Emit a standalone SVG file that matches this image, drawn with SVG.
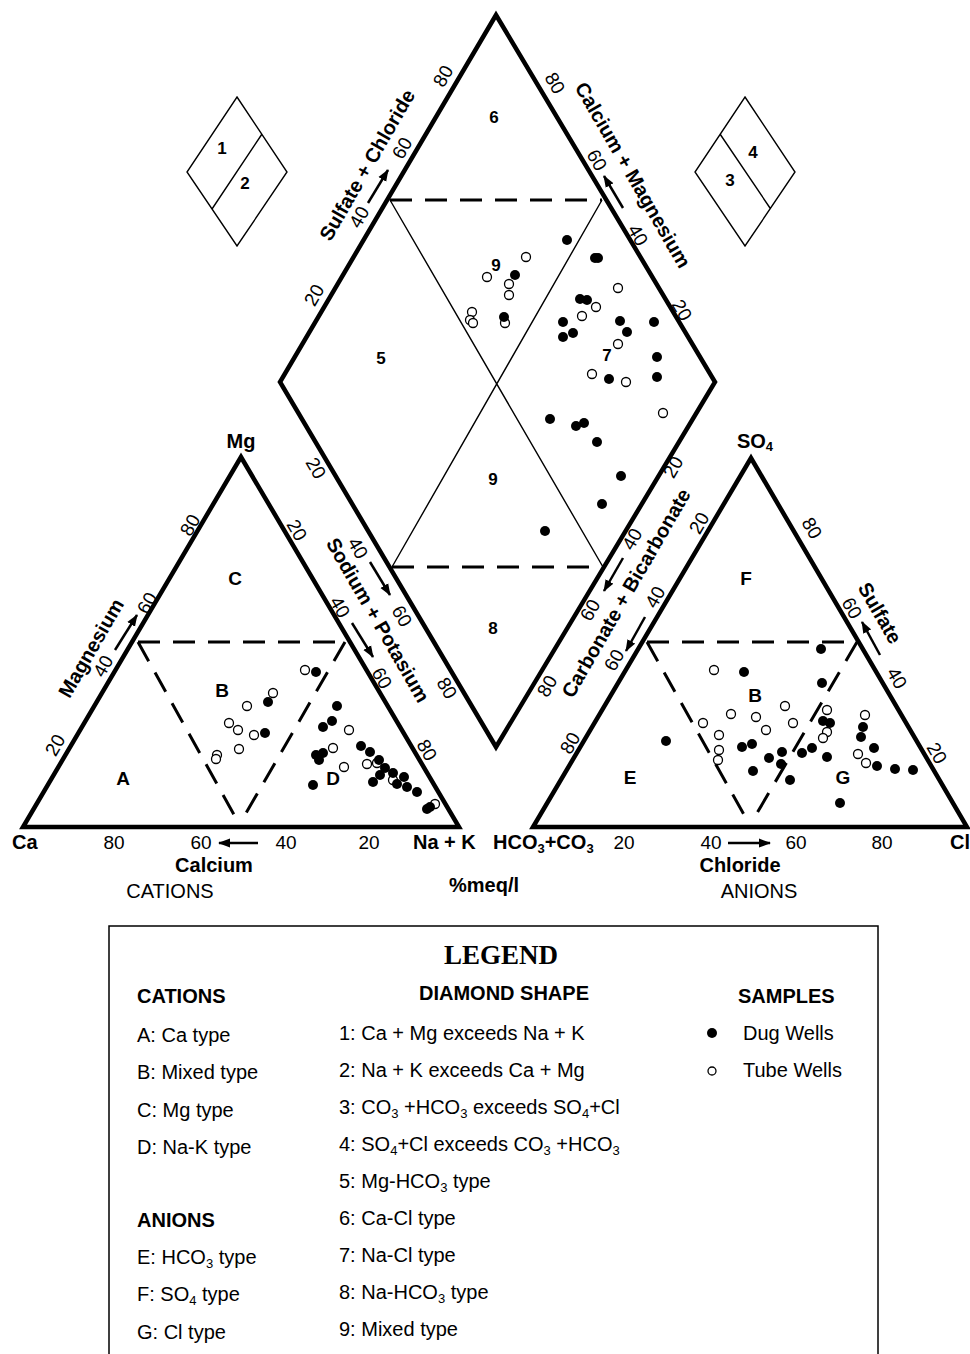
<svg xmlns="http://www.w3.org/2000/svg" width="970" height="1354" viewBox="0 0 970 1354">
<defs>
<style>
.thick{fill:none;stroke:#000;stroke-width:4.5;stroke-linejoin:miter;stroke-miterlimit:10}
.thin{fill:none;stroke:#000;stroke-width:1.4}
.dash{fill:none;stroke:#000;stroke-width:3;stroke-dasharray:22 13}
.arr{stroke:#000;stroke-width:2.5;marker-end:url(#ah)}
.d{fill:#000}
.t{fill:#fff;stroke:#000;stroke-width:1.3}
text{font-family:"Liberation Sans",Arial,sans-serif;fill:#000}
.tk{font-size:19px;text-anchor:middle}
.bl{font-size:20px;font-weight:bold}
.blc{font-size:20px;font-weight:bold;text-anchor:middle}
.rg{font-size:19px;font-weight:bold;text-anchor:middle}
.num{font-size:17px;font-weight:bold;text-anchor:middle}
.lg{font-size:20px}
.lh{font-size:20px;font-weight:bold}
.sub{font-size:13px}
</style>
<marker id="ah" viewBox="0 0 12 10" refX="11" refY="5" markerWidth="12" markerHeight="10" markerUnits="userSpaceOnUse" orient="auto"><path d="M0,0.5 L12,5 L0,9.5 z" fill="#000"/></marker>
</defs>
<rect width="970" height="1354" fill="#fff"/>

<g id="key-diamond-12">
<path class="thin" d="M237,97 L287,172 L237,246 L187,172 Z M262,134 L212,209"/>
<text class="num" x="222" y="154">1</text>
<text class="num" x="245" y="189">2</text>
</g>
<g id="key-diamond-34">
<path class="thin" d="M745,97 L795,172 L745,246 L695,172 Z M720,134 L770,208"/>
<text class="num" x="753" y="158">4</text>
<text class="num" x="730" y="186">3</text>
</g>

<g id="diamond">
<path class="thick" d="M496,15 L715,382 L496,747 L280,382 Z"/>
<path class="dash" d="M390,200 L602,200 M392,567 L603,567"/>
<path class="thin" d="M390,200 L603,567 M602,200 L392,567"/>
<text class="num" x="494" y="123">6</text>
<text class="num" x="496" y="271">9</text>
<text class="num" x="381" y="364">5</text>
<text class="num" x="607" y="361">7</text>
<text class="num" x="493" y="485">9</text>
<text class="num" x="493" y="634">8</text>
</g>

<g id="cation-triangle">
<path class="thick" d="M23,827 L459,827 L241,457 Z"/>
<path class="dash" d="M138,642 L345,642 M138,642 L237,820 M345,642 L242,820"/>
<text class="rg" x="235" y="585">C</text>
<text class="rg" x="222" y="697">B</text>
<text class="rg" x="123" y="785">A</text>
<text class="rg" x="333" y="785">D</text>
</g>

<g id="anion-triangle">
<path class="thick" d="M533,827 L967,827 L751,458 Z"/>
<path class="dash" d="M647,642 L857,642 M647,642 L747,820 M857,642 L753,820"/>
<text class="rg" x="746" y="585">F</text>
<text class="rg" x="755" y="702">B</text>
<text class="rg" x="630" y="784">E</text>
<text class="rg" x="843" y="784">G</text>
</g>

<g id="connectors">
<line class="arr" x1="258" y1="843" x2="219" y2="843"/>
<line class="arr" x1="728" y1="843" x2="770" y2="843"/>
<line class="arr" x1="115" y1="650" x2="137" y2="615"/>
<line class="arr" x1="352" y1="623" x2="373" y2="657"/>
<line class="arr" x1="370" y1="562" x2="390" y2="595"/>
<line class="arr" x1="368" y1="203" x2="388" y2="170"/>
<line class="arr" x1="623" y1="208" x2="604" y2="176"/>
<line class="arr" x1="623" y1="558" x2="604" y2="591"/>
<line class="arr" x1="645" y1="617" x2="626" y2="651"/>
<line class="arr" x1="880" y1="655" x2="862" y2="622"/>
</g>

<g id="ticks">
<text class="tk" transform="translate(55,745) rotate(-60)" dy="0.35em">20</text>
<text class="tk" transform="translate(103,666) rotate(-60)" dy="0.35em">40</text>
<text class="tk" transform="translate(147,603) rotate(-60)" dy="0.35em">60</text>
<text class="tk" transform="translate(190,525) rotate(-60)" dy="0.35em">80</text>

<text class="tk" transform="translate(297,530) rotate(60)" dy="0.35em">20</text>
<text class="tk" transform="translate(340,607) rotate(60)" dy="0.35em">40</text>
<text class="tk" transform="translate(382,678) rotate(60)" dy="0.35em">60</text>
<text class="tk" transform="translate(427,750) rotate(60)" dy="0.35em">80</text>

<text class="tk" transform="translate(316,468) rotate(60)" dy="0.35em">20</text>
<text class="tk" transform="translate(358,548) rotate(60)" dy="0.35em">40</text>
<text class="tk" transform="translate(402,616) rotate(60)" dy="0.35em">60</text>
<text class="tk" transform="translate(447,688) rotate(60)" dy="0.35em">80</text>

<text class="tk" transform="translate(443,76) rotate(-60)" dy="0.35em">80</text>
<text class="tk" transform="translate(402,148) rotate(-60)" dy="0.35em">60</text>
<text class="tk" transform="translate(359,217) rotate(-60)" dy="0.35em">40</text>
<text class="tk" transform="translate(314,295) rotate(-60)" dy="0.35em">20</text>

<text class="tk" transform="translate(555,83) rotate(60)" dy="0.35em">80</text>
<text class="tk" transform="translate(597,160) rotate(60)" dy="0.35em">60</text>
<text class="tk" transform="translate(638,235) rotate(60)" dy="0.35em">40</text>
<text class="tk" transform="translate(682,310) rotate(60)" dy="0.35em">20</text>

<text class="tk" transform="translate(673,467) rotate(-60)" dy="0.35em">20</text>
<text class="tk" transform="translate(632,539) rotate(-60)" dy="0.35em">40</text>
<text class="tk" transform="translate(590,610) rotate(-60)" dy="0.35em">60</text>
<text class="tk" transform="translate(547,686) rotate(-60)" dy="0.35em">80</text>

<text class="tk" transform="translate(699,523) rotate(-60)" dy="0.35em">20</text>
<text class="tk" transform="translate(655,597) rotate(-60)" dy="0.35em">40</text>
<text class="tk" transform="translate(614,660) rotate(-60)" dy="0.35em">60</text>
<text class="tk" transform="translate(570,743) rotate(-60)" dy="0.35em">80</text>

<text class="tk" transform="translate(812,528) rotate(60)" dy="0.35em">80</text>
<text class="tk" transform="translate(852,608) rotate(60)" dy="0.35em">60</text>
<text class="tk" transform="translate(897,678) rotate(60)" dy="0.35em">40</text>
<text class="tk" transform="translate(937,753) rotate(60)" dy="0.35em">20</text>

<text class="tk" x="114" y="849">80</text>
<text class="tk" x="201" y="849">60</text>
<text class="tk" x="286" y="849">40</text>
<text class="tk" x="369" y="849">20</text>
<text class="tk" x="624" y="849">20</text>
<text class="tk" x="711" y="849">40</text>
<text class="tk" x="796" y="849">60</text>
<text class="tk" x="882" y="849">80</text>
</g>

<g id="axis-labels">
<text class="blc" transform="translate(367,165) rotate(-60)" dy="0.35em">Sulfate + Chloride</text>
<text class="blc" transform="translate(633,175) rotate(60)" dy="0.35em">Calcium + Magnesium</text>
<text class="blc" transform="translate(378,620) rotate(60)" dy="0.35em">Sodium + Potasium</text>
<text class="blc" transform="translate(626,593) rotate(-60)" dy="0.35em">Carbonate + Bicarbonate</text>
<text class="blc" transform="translate(91,648) rotate(-60)" dy="0.35em">Magnesium</text>
<text class="blc" transform="translate(880,613) rotate(60)" dy="0.35em">Sulfate</text>
<text class="blc" x="241" y="448">Mg</text>
<text class="blc" x="755" y="448">SO<tspan class="sub" dy="3">4</tspan></text>
<text class="bl" x="12" y="849">Ca</text>
<text class="bl" x="413" y="849">Na + K</text>
<text class="bl" x="493" y="849">HCO<tspan class="sub" dy="4">3</tspan><tspan dy="-4">+CO</tspan><tspan class="sub" dy="4">3</tspan></text>
<text class="bl" x="950" y="849">Cl</text>
<text class="blc" x="214" y="872">Calcium</text>
<text class="blc" x="740" y="872">Chloride</text>
<text class="blc" x="484" y="892">%meq/l</text>
<text class="tk" x="170" y="898" style="font-size:20px">CATIONS</text>
<text class="tk" x="759" y="898" style="font-size:20px">ANIONS</text>
</g>

<g id="tube-wells">
<circle class="t" cx="526" cy="257" r="4.5"/><circle class="t" cx="487" cy="277" r="4.5"/><circle class="t" cx="509" cy="284" r="4.5"/><circle class="t" cx="509" cy="295" r="4.5"/><circle class="t" cx="618" cy="288" r="4.5"/><circle class="t" cx="596" cy="307" r="4.5"/><circle class="t" cx="582" cy="316" r="4.5"/><circle class="t" cx="472" cy="312" r="4.5"/><circle class="t" cx="470" cy="320" r="4.5"/><circle class="t" cx="473" cy="323" r="4.5"/><circle class="t" cx="505" cy="323" r="4.5"/><circle class="t" cx="618" cy="344" r="4.5"/><circle class="t" cx="592" cy="374" r="4.5"/><circle class="t" cx="626" cy="382" r="4.5"/><circle class="t" cx="663" cy="413" r="4.5"/>
<circle class="t" cx="305" cy="670" r="4.5"/><circle class="t" cx="273" cy="693" r="4.5"/><circle class="t" cx="247" cy="706" r="4.5"/><circle class="t" cx="229" cy="723" r="4.5"/><circle class="t" cx="238" cy="730" r="4.5"/><circle class="t" cx="254" cy="735" r="4.5"/><circle class="t" cx="239" cy="749" r="4.5"/><circle class="t" cx="217" cy="755" r="4.5"/><circle class="t" cx="216" cy="759" r="4.5"/><circle class="t" cx="349" cy="730" r="4.5"/><circle class="t" cx="333" cy="748" r="4.5"/><circle class="t" cx="344" cy="767" r="4.5"/><circle class="t" cx="367" cy="764" r="4.5"/><circle class="t" cx="377" cy="763" r="4.5"/><circle class="t" cx="393" cy="780" r="4.5"/><circle class="t" cx="435" cy="804" r="4.5"/>
<circle class="t" cx="714" cy="670" r="4.5"/><circle class="t" cx="703" cy="723" r="4.5"/><circle class="t" cx="731" cy="714" r="4.5"/><circle class="t" cx="719" cy="735" r="4.5"/><circle class="t" cx="719" cy="750" r="4.5"/><circle class="t" cx="718" cy="760" r="4.5"/><circle class="t" cx="756" cy="717" r="4.5"/><circle class="t" cx="766" cy="730" r="4.5"/><circle class="t" cx="785" cy="706" r="4.5"/><circle class="t" cx="793" cy="723" r="4.5"/><circle class="t" cx="827" cy="710" r="4.5"/><circle class="t" cx="827" cy="732" r="4.5"/><circle class="t" cx="823" cy="738" r="4.5"/><circle class="t" cx="865" cy="715" r="4.5"/><circle class="t" cx="858" cy="754" r="4.5"/><circle class="t" cx="866" cy="763" r="4.5"/>
</g>

<g id="dug-wells">
<circle class="d" cx="567" cy="240" r="5"/><circle class="d" cx="595" cy="258" r="5"/><circle class="d" cx="598" cy="258" r="5"/><circle class="d" cx="515" cy="275" r="5"/><circle class="d" cx="504" cy="317" r="5"/><circle class="d" cx="580" cy="299" r="5"/><circle class="d" cx="587" cy="300" r="5"/><circle class="d" cx="563" cy="322" r="5"/><circle class="d" cx="573" cy="333" r="5"/><circle class="d" cx="563" cy="337" r="5"/><circle class="d" cx="620" cy="321" r="5"/><circle class="d" cx="627" cy="332" r="5"/><circle class="d" cx="654" cy="322" r="5"/><circle class="d" cx="657" cy="357" r="5"/><circle class="d" cx="657" cy="377" r="5"/><circle class="d" cx="609" cy="379" r="5"/><circle class="d" cx="550" cy="419" r="5"/><circle class="d" cx="576" cy="426" r="5"/><circle class="d" cx="584" cy="423" r="5"/><circle class="d" cx="597" cy="442" r="5"/><circle class="d" cx="621" cy="476" r="5"/><circle class="d" cx="602" cy="504" r="5"/><circle class="d" cx="545" cy="531" r="5"/>
<circle class="d" cx="316" cy="672" r="5"/><circle class="d" cx="268" cy="702" r="5"/><circle class="d" cx="265" cy="733" r="5"/><circle class="d" cx="337" cy="706" r="5"/><circle class="d" cx="332" cy="721" r="5"/><circle class="d" cx="323" cy="727" r="5"/><circle class="d" cx="316" cy="755" r="5"/><circle class="d" cx="323" cy="753" r="5"/><circle class="d" cx="319" cy="760" r="5"/><circle class="d" cx="313" cy="785" r="5"/><circle class="d" cx="361" cy="746" r="5"/><circle class="d" cx="370" cy="752" r="5"/><circle class="d" cx="379" cy="760" r="5"/><circle class="d" cx="385" cy="768" r="5"/><circle class="d" cx="380" cy="775" r="5"/><circle class="d" cx="373" cy="782" r="5"/><circle class="d" cx="393" cy="773" r="5"/><circle class="d" cx="404" cy="777" r="5"/><circle class="d" cx="397" cy="784" r="5"/><circle class="d" cx="407" cy="787" r="5"/><circle class="d" cx="417" cy="792" r="5"/><circle class="d" cx="427" cy="809" r="5"/><circle class="d" cx="430" cy="807" r="5"/>
<circle class="d" cx="821" cy="649" r="5"/><circle class="d" cx="744" cy="672" r="5"/><circle class="d" cx="822" cy="683" r="5"/><circle class="d" cx="666" cy="741" r="5"/><circle class="d" cx="742" cy="747" r="5"/><circle class="d" cx="752" cy="744" r="5"/><circle class="d" cx="753" cy="771" r="5"/><circle class="d" cx="769" cy="758" r="5"/><circle class="d" cx="781" cy="764" r="5"/><circle class="d" cx="782" cy="752" r="5"/><circle class="d" cx="790" cy="780" r="5"/><circle class="d" cx="802" cy="753" r="5"/><circle class="d" cx="812" cy="748" r="5"/><circle class="d" cx="823" cy="721" r="5"/><circle class="d" cx="830" cy="723" r="5"/><circle class="d" cx="827" cy="757" r="5"/><circle class="d" cx="840" cy="803" r="5"/><circle class="d" cx="863" cy="727" r="5"/><circle class="d" cx="861" cy="737" r="5"/><circle class="d" cx="874" cy="748" r="5"/><circle class="d" cx="877" cy="766" r="5"/><circle class="d" cx="895" cy="769" r="5"/><circle class="d" cx="913" cy="770" r="5"/>
</g>

<g id="legend">
<rect x="109" y="926" width="769" height="440" fill="none" stroke="#000" stroke-width="1.5"/>
<text x="501" y="964" style="font-family:'Liberation Serif','Times New Roman',serif;font-size:27px;font-weight:bold;text-anchor:middle">LEGEND</text>
<text class="lh" x="137" y="1003">CATIONS</text>
<text class="lg" x="137" y="1042">A: Ca type</text>
<text class="lg" x="137" y="1079">B: Mixed type</text>
<text class="lg" x="137" y="1117">C: Mg type</text>
<text class="lg" x="137" y="1154">D: Na-K type</text>
<text class="lh" x="137" y="1227">ANIONS</text>
<text class="lg" x="137" y="1264">E: HCO<tspan class="sub" dy="4">3</tspan><tspan dy="-4"> type</tspan></text>
<text class="lg" x="137" y="1301">F: SO<tspan class="sub" dy="4">4</tspan><tspan dy="-4"> type</tspan></text>
<text class="lg" x="137" y="1339">G: Cl type</text>

<text class="lh" x="504" y="1000" style="text-anchor:middle">DIAMOND SHAPE</text>
<text class="lg" x="339" y="1040">1: Ca + Mg exceeds Na + K</text>
<text class="lg" x="339" y="1077">2: Na + K exceeds Ca + Mg</text>
<text class="lg" x="339" y="1114">3: CO<tspan class="sub" dy="4">3</tspan><tspan dy="-4"> +HCO</tspan><tspan class="sub" dy="4">3</tspan><tspan dy="-4"> exceeds SO</tspan><tspan class="sub" dy="4">4</tspan><tspan dy="-4">+Cl</tspan></text>
<text class="lg" x="339" y="1151">4: SO<tspan class="sub" dy="4">4</tspan><tspan dy="-4">+Cl exceeds CO</tspan><tspan class="sub" dy="4">3</tspan><tspan dy="-4"> +HCO</tspan><tspan class="sub" dy="4">3</tspan></text>
<text class="lg" x="339" y="1188">5: Mg-HCO<tspan class="sub" dy="4">3</tspan><tspan dy="-4"> type</tspan></text>
<text class="lg" x="339" y="1225">6: Ca-Cl type</text>
<text class="lg" x="339" y="1262">7: Na-Cl type</text>
<text class="lg" x="339" y="1299">8: Na-HCO<tspan class="sub" dy="4">3</tspan><tspan dy="-4"> type</tspan></text>
<text class="lg" x="339" y="1336">9: Mixed type</text>

<text class="lh" x="738" y="1003">SAMPLES</text>
<circle class="d" cx="712" cy="1033" r="5"/>
<text class="lg" x="743" y="1040">Dug Wells</text>
<circle class="t" cx="712" cy="1071" r="4"/>
<text class="lg" x="743" y="1077">Tube Wells</text>
</g>
</svg>
